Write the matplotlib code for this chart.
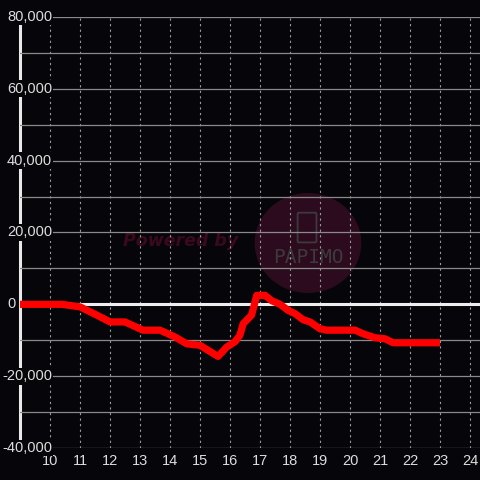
import matplotlib.pyplot as plt
from matplotlib.patches import Circle, FancyBboxPatch

# hour of day vs. balance
hours = [9.0, 10.4, 11.0, 11.56, 12.0, 12.5, 13.1, 13.67, 14.17, 14.56, 15.0, 15.27,
         15.6, 15.89, 16.17, 16.33, 16.44, 16.72, 16.89, 17.17, 17.39, 17.67, 17.94,
         18.17, 18.44, 18.67, 19.0, 19.22, 20.17, 20.44, 20.83, 21.17, 21.44, 23.0]
values = [0, 0, -700, -3000, -4900, -4900, -7200, -7200, -9100, -11000, -11400, -12800,
          -14500, -11900, -10400, -8600, -5400, -3000, 2500, 2500, 1000, 0, -1700,
          -2600, -4300, -4900, -6800, -7200, -7200, -8200, -9300, -9600, -10700, -10700]

xticks = list(range(10, 25))
yticks = [-40000, -20000, 0, 20000, 40000, 60000, 80000]

bg = '#060509'
txt = '#dddddd'

fig = plt.figure(figsize=(4.8, 4.8), dpi=100, facecolor=bg)
ax = fig.add_axes([20 / 480, 32 / 480, 460 / 480, 431 / 480], facecolor=bg)

ax.set_xlim(9, 24.333)
ax.set_ylim(-40000, 80000)

for s in ax.spines.values():
    s.set_visible(False)

# watermark
ax.add_patch(Circle((0.626, 0.4756), 50 / 431, transform=ax.transAxes,
                    facecolor='#2c0b1e', edgecolor='none', zorder=0.5))
ax.add_patch(FancyBboxPatch((0.6065, 0.48), 0.035, 0.063, transform=ax.transAxes,
                            boxstyle='round,pad=0.003', facecolor='none',
                            edgecolor='#3c3a3c', lw=1.3, zorder=0.6))
ax.text(0.626, 0.442, 'PAPIMO', transform=ax.transAxes, ha='center', va='center',
        color='#3c3a3c', fontsize=14, family='DejaVu Sans Mono', zorder=0.6)
ax.text(0.35, 0.48, 'Powered by', transform=ax.transAxes, ha='center', va='center',
        color='#3a0a1c', fontsize=12.5, fontweight='bold', style='italic', zorder=0.6)

# left white axis line
ax.axvline(9, color='#e8e8e8', lw=2.2, zorder=1.2, clip_on=False)

ax.set_xticks(xticks)
ax.set_yticks(range(-40000, 80001, 10000))
ax.set_yticklabels([])

ax.grid(axis='x', color='#9a9a9a', ls=(0, (2, 3)), lw=0.8)
ax.grid(axis='y', color='#8a8a8a', ls='-', lw=0.9)
ax.tick_params(axis='both', which='both', length=0)
ax.tick_params(axis='x', colors=txt, labelsize=10.5, pad=4)
for lab in ax.get_xticklabels():
    lab.set_family('Liberation Sans')

# y labels sit inside the plot on a dark box
for v in yticks:
    xpos = -0.0087 if v == 0 else 0.0696
    ax.text(xpos, v, f'{v:,}', transform=ax.get_yaxis_transform(), ha='right',
            va='center', color=txt, fontsize=10.5, family='Liberation Sans',
            clip_on=False, zorder=4,
            bbox=dict(facecolor=bg, edgecolor='none', pad=1))

ax.axhline(0, color='#eeeeee', lw=2.2, zorder=2)
ax.plot(hours, values, color='#ff0000', lw=5.2, solid_joinstyle='round',
        solid_capstyle='butt', zorder=3)

fig.savefig('out.png', dpi=100, facecolor=bg)
